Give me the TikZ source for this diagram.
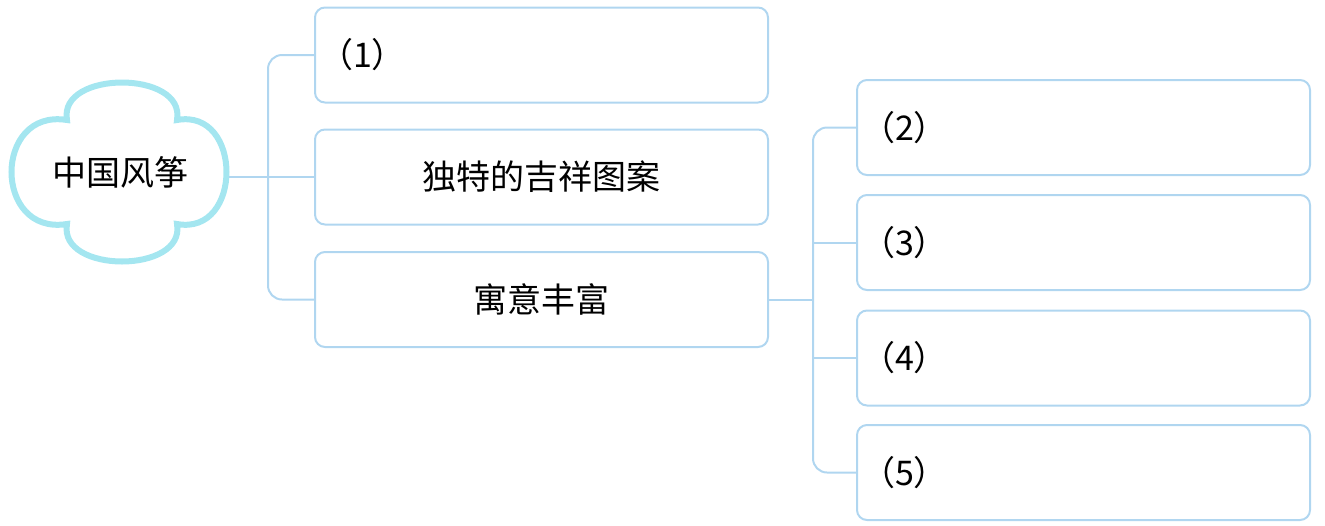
\documentclass[tikz,border=0pt]{standalone}
\usepackage{fontspec}
\newfontfamily\cjk{Noto Sans CJK SC}
\usepackage{tikz}

\definecolor{boxblue}{HTML}{B0D6F0}
\definecolor{cloudcyan}{HTML}{A4E6F0}

\tikzset{
  bx/.style={draw=boxblue, line width=1pt, rounded corners=5pt, minimum height=47.5pt,
             text width=222.5pt, inner xsep=2pt, inner ysep=0pt, font=\cjk\fontsize{17}{20}\selectfont},
  link/.style={draw=boxblue, line width=1pt, rounded corners=7pt}
}

\begin{document}
\begin{tikzpicture}[x=0.5pt,y=-0.5pt]

\useasboundingbox (0,0) rectangle (1325,525);

% cloud
\draw [cloudcyan, line width=3pt]
  (67,120) .. controls (58,70) and (186,70) .. (177,120)
  .. controls (243,108) and (243,236) .. (177,224)
  .. controls (186,274) and (58,274) .. (67,224)
  .. controls (-7,236) and (-7,108) .. (67,120) -- cycle;
\node [inner sep=0pt, minimum width=109pt, minimum height=60pt, font=\cjk\fontsize{17}{20}\selectfont] (kite) at (120,172) {中国风筝};

% left boxes
\node [bx, align=left] (b1) at (541.5,55) {（1）};
\node [bx, align=center] (b2) at (541.5,177) {独特的吉祥图案};
\node [bx, align=center] (b3) at (541.5,299.5) {寓意丰富};

% right boxes
\foreach \i/\y in {2/127.5,3/242.5,4/358,5/472.5}
    \node [bx, align=left] (r\i) at (1083.5,\y) {（\i）};

\coordinate (jl) at (268,177);
\coordinate (jr) at ([xshift=22pt]b3.east);

\draw [link] (kite.east |- b2.west) -- (b2.west);
\draw [link] (b1.west) -| (jl) |- (b3.west);

\draw [link] (b3.east) -- (jr);
\draw [link] (r2.west) -| (jr) |- (r5.west);
\foreach \i in {3,4}
    \draw [link] (jr |- r\i.west) -- (r\i.west);

\end{tikzpicture}
\end{document}
